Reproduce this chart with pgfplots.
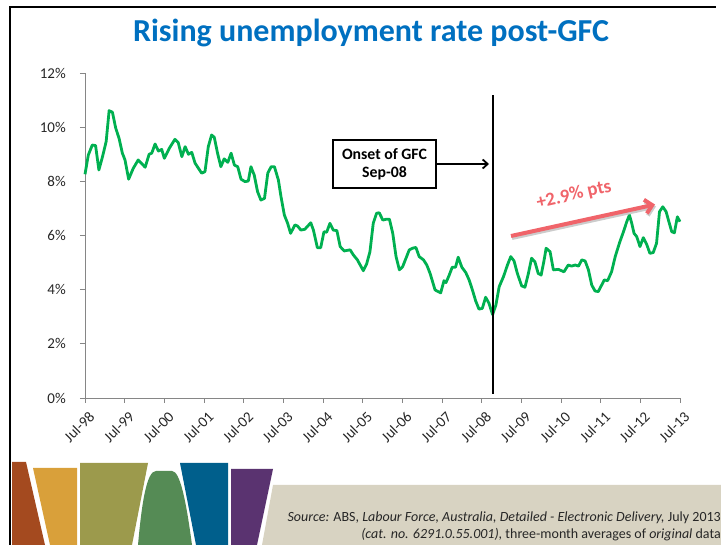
\documentclass[border=0pt]{standalone}
\usepackage{pgfplots}
\pgfplotsset{compat=1.18}
\usepackage{fontspec}
\setmainfont{Carlito}
\usetikzlibrary{arrows.meta}
\definecolor{titleblue}{HTML}{0070C0}
\definecolor{linegreen}{HTML}{00B050}
\definecolor{arrowred}{HTML}{F0646A}
\definecolor{axisgray}{HTML}{868686}
\definecolor{labelgray}{HTML}{262626}
\definecolor{cBrown}{HTML}{A44A1F}
\definecolor{cGold}{HTML}{D9A03A}
\definecolor{cOlive}{HTML}{9C9A4C}
\definecolor{cGreen}{HTML}{558B55}
\definecolor{cBlue}{HTML}{005F8C}
\definecolor{cPurple}{HTML}{5A3370}
\definecolor{cBeige}{HTML}{D8D3C2}
\pgfplotstableread{
m u
0 8.26
1 8.97
2.2 9.34
3.2 9.32
4.2 8.42
5.3 8.91
6.4 9.47
7.3 10.61
8.3 10.55
9.3 9.96
10.3 9.59
11.3 9.04
12.1 8.79
13.2 8.08
14.6 8.48
16.1 8.79
18.2 8.52
19.4 9.00
20.2 9.04
21.2 9.38
22.2 9.12
23.2 9.18
24 8.85
25.5 9.22
27.2 9.55
28.2 9.43
29.3 8.91
30.3 9.28
31.3 9.00
32.3 9.07
33.3 8.67
35.3 8.30
36.3 8.36
37.3 9.28
38.3 9.71
39.1 9.63
40.1 9.04
41.1 8.54
42.1 8.83
43.2 8.70
44.2 9.04
45.2 8.60
46.2 8.54
47.2 8.08
48.4 7.99
49.4 8.01
50.2 8.54
51.2 8.23
52.2 7.62
53.2 7.31
54.3 7.37
55.3 8.30
56.3 8.54
57.3 8.54
58.5 8.05
59.3 7.43
60.3 6.76
61.3 6.45
62.2 6.08
63.5 6.39
64.3 6.35
65.3 6.20
66.5 6.23
68.3 6.47
69.1 6.20
70.3 5.55
71.3 5.55
72.3 6.14
73.1 6.12
74.1 6.45
75.1 6.20
76.2 6.18
77.2 5.59
78.4 5.43
80.2 5.47
81.2 5.28
82.4 5.10
84.2 4.70
85.2 4.95
86.2 5.40
87.2 6.45
88.2 6.82
89 6.84
90.1 6.57
91.1 6.60
92.1 6.60
93.1 6.08
94.1 5.22
95.1 4.73
96.1 4.85
97.1 5.16
98.1 5.47
99.1 5.53
100.1 5.56
101.1 5.22
102.4 5.10
103.4 4.91
104.4 4.60
105.9 3.99
107.6 3.88
108.6 4.33
109.2 4.26
110.1 4.51
111.1 4.83
112.1 4.83
112.9 5.20
114 4.83
115.2 4.63
116.2 4.36
117.2 3.99
118.2 3.58
119.2 3.28
120.2 3.31
121.2 3.72
122.2 3.50
123.3 3.08
124.3 3.43
125.3 4.11
126.6 4.48
127.8 4.91
128.8 5.22
129.8 5.06
130.8 4.60
132.1 4.14
133.1 4.09
134.1 4.58
135.1 5.16
136.1 5.03
137.1 4.60
138 4.54
138.9 5.10
139.5 5.53
140.7 5.40
141.7 4.73
143.2 4.75
144.9 4.66
146.2 4.91
147.2 4.87
148.3 4.91
149.3 4.87
150.3 5.10
151.3 5.06
152.3 4.73
153.3 4.17
154.3 3.95
155.3 3.93
156.3 4.17
157.1 4.36
158.1 4.33
159.3 4.66
160.4 5.22
161.7 5.73
162.9 6.14
163.9 6.51
164.7 6.76
165.4 6.45
166.1 6.08
166.9 5.96
167.9 5.59
168.9 5.92
169.9 5.68
170.9 5.34
171.9 5.37
172.9 5.71
173.8 6.88
174.8 7.06
175.8 6.88
176.5 6.57
177.5 6.14
178.3 6.10
179.2 6.69
180 6.51
}\unemp
\begin{document}
\begin{tikzpicture}
\useasboundingbox (0pt,0pt) rectangle (721pt,-545pt);
% slide border
\draw[line width=2.5pt] (10pt,-545pt) -- (10pt,-7pt) -- (716pt,-7pt);
% title
\node[font=\fontsize{32}{36}\selectfont\bfseries, text=titleblue] at (371pt,-33pt) {Rising unemployment rate post-GFC};
\begin{axis}[
  at={(85pt,-398pt)}, anchor=south west,
  scale only axis, width=595pt, height=325pt,
  xmin=0, xmax=180, ymin=0, ymax=12,
  axis x line*=bottom, axis y line*=left,
  axis line style={-, color=axisgray, line width=0.8pt},
  tick align=outside, major tick length=5pt,
  tick style={color=axisgray, line width=0.8pt},
  xtick={0,12,...,180},
  xticklabels={Jul-98,Jul-99,Jul-00,Jul-01,Jul-02,Jul-03,Jul-04,Jul-05,Jul-06,Jul-07,Jul-08,Jul-09,Jul-10,Jul-11,Jul-12,Jul-13},
  ytick={0,2,...,12},
  yticklabels={0\%,2\%,4\%,6\%,8\%,10\%,12\%},
  every tick label/.append style={font=\fontsize{15}{17}\selectfont, text=labelgray},
  xticklabel style={yshift=-11pt, xshift=7pt, rotate=45, anchor=east, inner sep=0pt},
  yticklabel style={inner sep=0pt, xshift=-14pt},
  /pgf/number format/assume math mode=true,
  clip=false,
]
\addplot[linegreen, line width=2.8pt, line join=round, mark=none] table[x=m,y=u] {\unemp};
\draw[black, line width=2.5pt] (axis cs:123.4,0.15) -- (axis cs:123.4,11.19);
\end{axis}
% GFC box
\draw[line width=2pt, fill=white] (333pt,-140pt) rectangle (436pt,-188pt);
\node[font=\fontsize{15.8}{18}\selectfont\bfseries, align=center] at (384.5pt,-164pt) {Onset of GFC\\Sep-08};
\draw[line width=1.8pt, -{Straight Barb[length=5pt,width=9pt]}] (436pt,-164pt) -- (489pt,-164pt);
% red arrow
\draw[line width=4pt, black!20, -{Straight Barb[length=7pt,width=14pt]}] (512pt,-238pt) -- (656pt,-206.5pt);
\draw[line width=4pt, arrowred, -{Straight Barb[length=7pt,width=14pt]}] (511pt,-236pt) -- (655pt,-204.5pt);
\node[font=\fontsize{19}{21}\selectfont\bfseries, text=arrowred, rotate=13] at (574pt,-195pt) {+2.9\% pts};
% bottom decoration
\fill[cBeige] (273pt,-485pt) -- (721pt,-485pt) -- (721pt,-545pt) -- (262pt,-545pt) -- cycle;
\fill[cBrown] (12pt,-462pt) -- (26pt,-462pt) -- (45pt,-545pt) -- (12pt,-545pt) -- cycle;
\fill[cGold] (33pt,-468pt) -- (77pt,-468pt) -- (77pt,-545pt) -- (50pt,-545pt) -- cycle;
\fill[cOlive] (80pt,-463pt) -- (148pt,-463pt) -- (132pt,-545pt) -- (80pt,-545pt) -- cycle;
\fill[cGreen] (138pt,-545pt) .. controls (142pt,-500pt) and (147pt,-471pt) .. (156pt,-471pt) -- (172pt,-471pt) .. controls (180pt,-471pt) and (186pt,-500pt) .. (192pt,-545pt) -- cycle;
\fill[cBlue] (180pt,-463pt) -- (228pt,-463pt) -- (228pt,-545pt) -- (196pt,-545pt) -- cycle;
\fill[cPurple] (231pt,-469pt) -- (273pt,-469pt) -- (257pt,-545pt) -- (231pt,-545pt) -- cycle;
% source
\node[anchor=east, font=\fontsize{14}{16}\selectfont, text=labelgray, inner sep=0pt] at (721pt,-518pt) {\textit{Source:} ABS, \textit{Labour Force, Australia, Detailed - Electronic Delivery,} July 2013};
\node[anchor=east, font=\fontsize{14}{16}\selectfont, text=labelgray, inner sep=0pt] at (721pt,-535pt) {\textit{(cat. no. 6291.0.55.001),} three-month averages of \textit{original} data};
\end{tikzpicture}
\end{document}
